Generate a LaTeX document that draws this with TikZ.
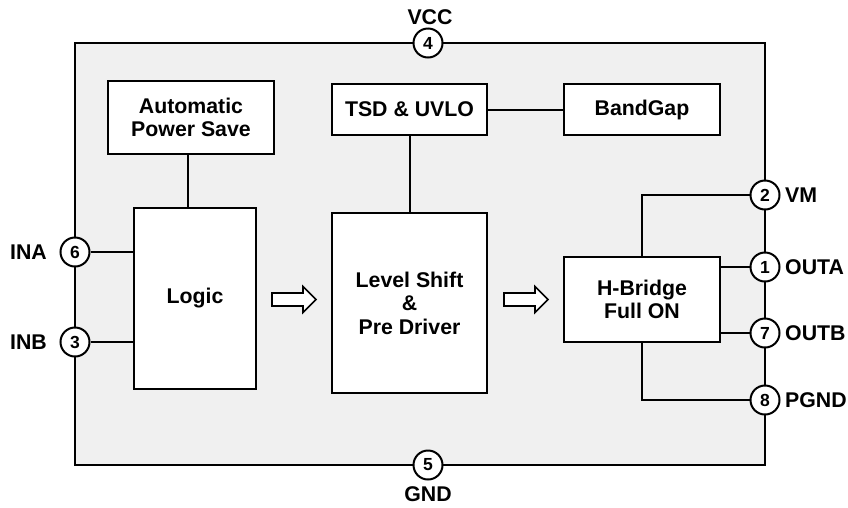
\documentclass[tikz,border=0pt]{standalone}
\usepackage{fontspec}
\setmainfont{Liberation Sans}
\usetikzlibrary{calc}
\newcommand{\blkfont}{\fontsize{21.3}{23.5}\selectfont\bfseries}
\newcommand{\pinfont}{\fontsize{17.5}{19}\selectfont\bfseries}
\tikzset{
  blk/.style={draw, fill=white, line width=2pt, align=center, font=\blkfont, inner sep=0pt},
  pinc/.style={circle, draw, fill=white, line width=2pt, minimum size=29pt, inner sep=0pt, font=\pinfont},
  lbl/.style={font=\blkfont, inner sep=0pt},
  wire/.style={line width=2pt},
  barrow/.style={draw, fill=white, line width=1.6pt, line join=miter},
}
\newcommand{\blockarrow}[1]{%
  \draw[barrow] ($(#1)+(-22,-6.5)$) -- ($(#1)+(9,-6.5)$) -- ($(#1)+(9,-13)$) -- ($(#1)+(22,0)$)
    -- ($(#1)+(9,13)$) -- ($(#1)+(9,6.5)$) -- ($(#1)+(-22,6.5)$) -- cycle;}
\begin{document}
\begin{tikzpicture}[x=1pt,y=-1pt]
\useasboundingbox (0,0) rectangle (848,507);
% package outline
\draw[wire, fill=black!6] (75,43) rectangle (765,465);
% blocks
\node[blk, minimum width=166pt, minimum height=73pt] (aps) at (191,117.5) {Automatic\\Power Save};
\node[blk, minimum width=122pt, minimum height=181pt] (logic) at (195,298.5) {Logic};
\node[blk, minimum width=155pt, minimum height=51pt] (tsd) at (409.5,109.5) {TSD \& UVLO};
\node[blk, minimum width=156pt, minimum height=51pt] (bg) at (642,109.5) {BandGap};
\node[blk, minimum width=155pt, minimum height=180pt] (lvl) at (409.5,303) {Level Shift\\\&\\Pre Driver};
\node[blk, minimum width=156pt, minimum height=85pt] (hb) at (642,299.5) {H-Bridge\\Full ON};
% block arrows
\coordinate (ar1) at (294,299.5);
\coordinate (ar2) at (526,299.5);
\blockarrow{ar1}
\blockarrow{ar2}
% pins
\node[pinc] (p4) at (428,43) {4};
\node[pinc] (p5) at (428,465) {5};
\node[pinc] (p6) at (75,252) {6};
\node[pinc] (p3) at (75,342) {3};
\node[pinc] (p2) at (765,195) {2};
\node[pinc] (p1) at (765,267) {1};
\node[pinc] (p7) at (765,333) {7};
\node[pinc] (p8) at (765,400) {8};
% pin labels
\node[lbl] (lvcc) at (430,17) {VCC};
\node[lbl] (lgnd) at (428,494) {GND};
\node[lbl, anchor=east] (lina) at (47,252) {INA};
\node[lbl, anchor=east] (linb) at (47,342) {INB};
\node[lbl, anchor=west] (lvm) at (785,195) {VM};
\node[lbl, anchor=west] (louta) at (785,267) {OUTA};
\node[lbl, anchor=west] (loutb) at (785,333) {OUTB};
\node[lbl, anchor=west] (lpgnd) at (785,400) {PGND};
% connectors
\coordinate (apsx) at ($(aps.south)+(-3,0)$);
\draw[wire] (apsx) -- (apsx |- logic.north);
\draw[wire] (tsd.south) -- (lvl.north);
\draw[wire] (tsd.east) -- (bg.west);
\draw[wire] (p6) -- (p6 -| logic.west);
\draw[wire] (p3) -- (p3 -| logic.west);
\draw[wire] (p1) -- (p1 -| hb.east);
\draw[wire] (p7) -- (p7 -| hb.east);
\draw[wire] (p2) -| (hb.north);
\draw[wire] (hb.south) |- (p8);
\end{tikzpicture}
\end{document}
